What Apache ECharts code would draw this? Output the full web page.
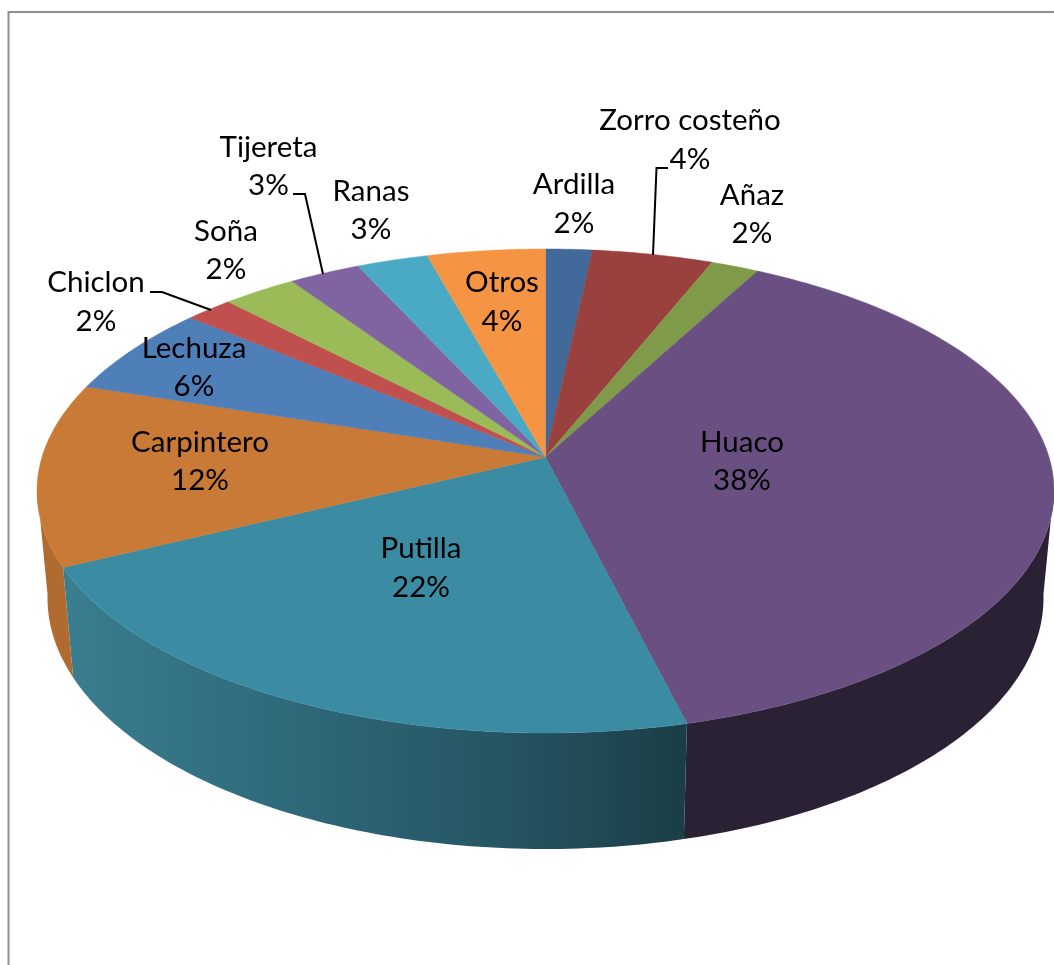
<!DOCTYPE html>
<html>
<head>
<meta charset="utf-8">
<style>html,body{margin:0;padding:0;background:#fff;overflow:hidden}#c{width:1054px;height:965px}</style>
<script src="https://cdn.jsdelivr.net/npm/echarts@6/dist/echarts.min.js"></script>
</head>
<body>
<div id="c"></div>
<script>
// ---- data (clockwise from 12 o'clock) ----
const categories = ['Ardilla','Zorro costeño','Añaz','Huaco','Putilla','Carpintero','Lechuza','Chiclon','Soña','Tijereta','Ranas','Otros'];
const values     = [1.7,4.4,1.75,38.25,21.7,12.2,6.05,1.75,2.7,2.6,2.6,4.3];
const percentLabels = ['2%','4%','2%','38%','22%','12%','6%','2%','2%','3%','3%','4%'];

// ---- styling / layout ----
const topColors = ['#41699a','#9a403e','#7f9a48','#6a5082','#3b8ba3','#c97a36','#4f7fb9','#bf504d','#9bbb59','#8064a2','#4aaac5','#f59443'];
const wallFill = {
  3: '#2b2135',
  4: {type:'linear',x:0,y:0,x2:1,y2:0,colorStops:[{offset:0,color:'#3a7e90'},{offset:.35,color:'#2f6a7b'},{offset:.7,color:'#265563'},{offset:1,color:'#1a3e47'}]},
  5: '#b06c30'
};
const labelAnchor = [[574,204],[690,140],[752,214.5],[742,461.5],[421,568],[200,461.5],[194,367.5],[96,302],[226,250.5],[268.5,166.5],[371,210.5],[502,302]];
const leaders = {
  1: [[668,168],[656.5,168],[653,255]],
  7: [[150,292],[162,292],[211,310]],
  9: [[293,194],[305,194],[323,274]]
};
const FONT = '29.5px Lato';
const LINE_H = 38.5;
// projected disc: top face and bottom rim
const topRim = {cx:545.5, cy:491, rx:508.5, ry:242, e:34};
const botRim = {cx:545.5, cy:598, rx:498, ry:251, e:35};

function project(r, pct){
  const t = pct/100*2*Math.PI, s = Math.sin(t), c = -Math.cos(t);
  const k = -r.e/r.ry, a = r.ry - r.e*r.e/r.ry, b = r.rx*Math.sqrt(1-k*k), d = 1+k*c;
  return [r.cx + b*s/d, (r.cy - r.e) + a*c/d];
}
function arc(r, from, to){
  const pts = [], n = Math.max(2, Math.ceil((to-from)*4));
  for (let i=0;i<=n;i++) pts.push(project(r, from+(to-from)*i/n));
  return pts;
}
let acc = 0;
const sliceRows = values.map((v,i)=>{ const row=[acc,acc+v,i]; acc+=v; return row; });
const FRONT_FROM = 27, FRONT_TO = 73;

const chart = echarts.init(document.getElementById('c'),null,{renderer:'canvas'});
chart.setOption({
  animation:false,
  backgroundColor:'#fff',
  graphic:[{type:'polyline',silent:true,z:0,shape:{points:[[8.5,965],[8.5,12],[1054,12]]},style:{stroke:'#8f8f8f',lineWidth:2,fill:null}}],
  series:[
    {type:'custom',name:'walls',coordinateSystem:'none',z:2,silent:true,data:sliceRows,
     renderItem(p,api){
       const i=api.value(2), a=Math.max(api.value(0),FRONT_FROM), b=Math.min(api.value(1),FRONT_TO);
       if(b<=a||!wallFill[i]) return {type:'group',children:[]};
       const pts=arc(topRim,a,b).concat(arc(botRim,a,b).reverse());
       return {type:'polygon',shape:{points:pts},style:{fill:wallFill[i]}};
     }},
    {type:'custom',name:'tops',coordinateSystem:'none',z:3,silent:true,data:sliceRows,
     renderItem(p,api){
       const i=api.value(2);
       const pts=[[topRim.cx,topRim.cy-topRim.e]].concat(arc(topRim,api.value(0),api.value(1)));
       return {type:'polygon',shape:{points:pts},style:{fill:topColors[i],stroke:topColors[i],lineWidth:.5}};
     }},
    {type:'custom',name:'labels',coordinateSystem:'none',z:4,silent:true,data:sliceRows,
     renderItem(p,api){
       const i=api.value(2), ch=[];
       if(leaders[i]) ch.push({type:'polyline',shape:{points:leaders[i]},style:{stroke:'#000',lineWidth:2,fill:null}});
       ch.push({type:'text',style:{text:categories[i]+'\n'+percentLabels[i],x:labelAnchor[i][0],y:labelAnchor[i][1],align:'center',verticalAlign:'middle',font:FONT,lineHeight:LINE_H,fill:'#000'}});
       return {type:'group',children:ch};
     }}
  ]
});
</script>
</body>
</html>
